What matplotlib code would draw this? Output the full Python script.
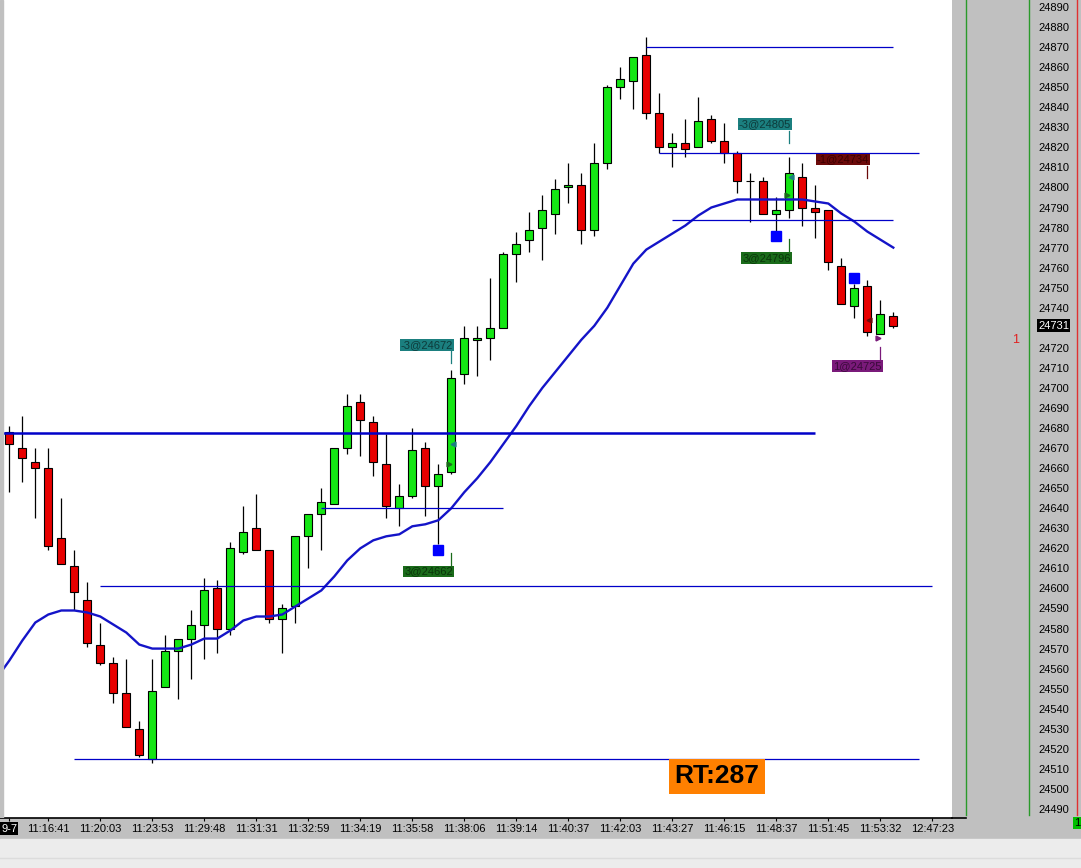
import numpy as np
import matplotlib.pyplot as plt
from matplotlib.lines import Line2D
from matplotlib.patches import Rectangle

plt.rcParams['font.family'] = ['Liberation Sans', 'DejaVu Sans']

# K线数据 (开 高 低 收)
opens = [24678, 24670, 24663, 24660, 24625, 24611, 24594, 24572, 24563, 24548,
         24530, 24515, 24551, 24569, 24575, 24582, 24600, 24580, 24618, 24630,
         24619, 24585, 24591, 24626, 24637, 24642, 24670, 24693, 24683, 24662,
         24640, 24646, 24670, 24651, 24658, 24707, 24724, 24725, 24730, 24767,
         24774, 24780, 24787, 24800, 24801, 24779, 24812, 24850, 24853, 24866,
         24837, 24820, 24822, 24820, 24834, 24823, 24817, 24803, 24803, 24787,
         24789, 24805, 24790, 24789, 24761, 24741, 24751, 24727, 24736]
highs = [24681, 24686, 24670, 24670, 24645, 24619, 24603, 24583, 24566, 24565,
         24534, 24565, 24577, 24575, 24589, 24605, 24604, 24623, 24641, 24647,
         24619, 24592, 24626, 24637, 24650, 24670, 24697, 24697, 24686, 24677,
         24652, 24680, 24673, 24662, 24709, 24731, 24731, 24755, 24768, 24778,
         24788, 24796, 24804, 24812, 24807, 24822, 24851, 24860, 24865, 24875,
         24847, 24827, 24834, 24845, 24836, 24832, 24818, 24807, 24805, 24795,
         24815, 24812, 24801, 24789, 24765, 24752, 24754, 24744, 24738]
lows = [24648, 24653, 24635, 24619, 24612, 24589, 24571, 24562, 24543, 24531,
        24516, 24513, 24551, 24545, 24555, 24565, 24568, 24577, 24617, 24619,
        24583, 24568, 24583, 24610, 24619, 24642, 24667, 24666, 24656, 24635,
        24631, 24645, 24636, 24622, 24657, 24702, 24706, 24714, 24730, 24753,
        24768, 24764, 24777, 24792, 24772, 24776, 24809, 24844, 24839, 24834,
        24817, 24810, 24815, 24820, 24822, 24812, 24797, 24783, 24787, 24778,
        24785, 24781, 24775, 24759, 24742, 24735, 24726, 24727, 24730]
closes = [24672, 24665, 24660, 24621, 24612, 24598, 24573, 24563, 24548, 24531,
          24517, 24549, 24569, 24575, 24582, 24599, 24580, 24620, 24628, 24619,
          24585, 24590, 24626, 24637, 24643, 24670, 24691, 24684, 24663, 24641,
          24646, 24669, 24651, 24657, 24705, 24725, 24725, 24730, 24767, 24772,
          24779, 24789, 24799, 24801, 24779, 24812, 24850, 24854, 24865, 24837,
          24820, 24822, 24819, 24833, 24823, 24817, 24803, 24803, 24787, 24789,
          24807, 24790, 24788, 24763, 24742, 24750, 24728, 24737, 24731]

# 均线 (从第 -1 根K线开始)
ma_values = [24555, 24564, 24574, 24583, 24587, 24589, 24589, 24588, 24586, 24582,
             24578, 24572, 24570, 24570, 24570, 24572, 24575, 24575, 24579, 24584,
             24586, 24586, 24587, 24591, 24595, 24599, 24606, 24614, 24620, 24624,
             24626, 24627, 24631, 24632, 24634, 24640, 24648, 24655, 24663, 24672,
             24681, 24691, 24700, 24708, 24716, 24724, 24731, 24740, 24751, 24762,
             24769, 24773, 24777, 24781, 24786, 24790, 24792, 24794, 24794, 24794,
             24794, 24794, 24794, 24793, 24792, 24787, 24783, 24778, 24774, 24770]

# 时间刻度
tick_bars = [0, 3, 7, 11, 15, 19, 23, 27, 31, 35, 39, 43, 47, 51, 55, 59, 63, 67, 71]
tick_labels = ['9-7', '11:16:41', '11:20:03', '11:23:53', '11:29:48', '11:31:31',
               '11:32:59', '11:34:19', '11:35:58', '11:38:06', '11:39:14',
               '11:40:37', '11:42:03', '11:43:27', '11:46:15', '11:48:37',
               '11:51:45', '11:53:32', '12:47:23']

# 水平价位线
level_prices = [24870, 24817, 24784, 24677.5, 24640, 24601, 24515]
level_start = [49, 50, 51, -1, 24, 7, 5]
level_end = [68, 70, 68, 62, 38, 71, 70]
level_width = [0.9, 0.9, 0.9, 1.8, 0.9, 0.9, 0.9]

# 成交标签
fill_text = ['-3@24672', '3@24662', '-3@24805', '3@24796', '-1@24734', '1@24725']
fill_bar = [34, 34, 60, 60, 66, 67]
fill_price = [24672, 24662, 24805, 24796, 24734, 24725]
label_price = [24721.5, 24608.5, 24831.5, 24765, 24814, 24711]
label_color = ['#1b7f7f', '#1a6b1a', '#1b7f7f', '#1a6b1a', '#6b0a0a', '#7a1a7a']
label_text_color = ['#0d3b3b', '#0a350a', '#0d3b3b', '#0a350a', '#3c0000', '#3a0a3a']

# 止损方块
stop_bar = [33, 59, 65]
stop_price = [24619, 24776, 24755]

last_price = 24731
rt_text = 'RT:287'

W, H = 1081, 868
fig = plt.figure(figsize=(W / 100, H / 100), dpi=100, facecolor='#c0c0c0')
ax = fig.add_axes([0, 1 - 818 / H, 952 / W, 818 / H], facecolor='white')

x = np.arange(len(opens))
o = np.array(opens)
c = np.array(closes)
body_col = np.where(c > o, '#14e614', np.where(c < o, '#e80000', 'black'))

# 影线和实体
ax.vlines(x, lows, highs, color='black', lw=0.9, zorder=2)
ax.bar(x, np.abs(c - o), bottom=np.minimum(o, c), width=0.62, color=body_col,
       edgecolor='black', linewidth=0.8, zorder=3)

# 均线
ax.plot(np.arange(-1, len(ma_values) - 1), ma_values, color='#1414c8', lw=1.7, zorder=4)

# 价位线
ax.hlines(level_prices, level_start, level_end, colors='#0000c8', linewidths=level_width, zorder=4)

# 成交标签
for txt, b, fp, lp, col, tcol in zip(fill_text, fill_bar, fill_price, label_price,
                                      label_color, label_text_color):
    ax.text(b + 0.12, lp, txt, ha='right', va='center', fontsize=8, color=tcol, zorder=6,
            bbox=dict(boxstyle='square,pad=0.08', fc=col, ec='none'))
    if txt.startswith('-'):
        ax.plot([b, b], [lp - 3.2, lp - 9.2], color=col, lw=0.9, zorder=6)
        ax.plot(b + 0.15, fp, marker='<', ms=3.5, color=col, zorder=6)
    else:
        ax.plot([b, b], [lp + 3.2, lp + 9.2], color=col, lw=0.9, zorder=6)
        ax.plot(b - 0.15, fp, marker='>', ms=3.5, color=col, zorder=6)

ax.plot(stop_bar, stop_price, 's', ms=7, color='#0000ff', zorder=6, linestyle='none')

# RT 标签
ax.text(0.753, 0.051, rt_text, transform=ax.transAxes, ha='center', va='center',
        fontsize=19, fontweight='bold', color='black', zorder=7,
        bbox=dict(boxstyle='square,pad=0.2', fc='#ff8000', ec='none'))

ax.set_xlim(-9.3 / 13, (952 - 9.3) / 13)
ax.set_ylim(24485.5, 24893.5)

# 坐标轴
for s in ['top', 'left', 'right']:
    ax.spines[s].set_visible(False)
ax.spines['bottom'].set_color('black')
ax.spines['bottom'].set_linewidth(1.2)

ax.set_xticks(tick_bars)
ax.set_xticklabels(tick_labels)
ax.tick_params(axis='x', length=2.5, pad=1.5, labelsize=8, color='black')
lbl0 = ax.get_xticklabels()[0]
lbl0.set_color('white')
lbl0.set_bbox(dict(boxstyle='square,pad=0.1', fc='black', ec='none'))

yt = [v for v in range(24490, 24891, 10) if v != 24730]
ax.set_yticks(yt)
ax.yaxis.tick_right()
ax.tick_params(axis='y', length=0, pad=62, labelsize=8)
ax.text(1038 / 952, last_price, str(last_price), transform=ax.get_yaxis_transform(),
        ha='left', va='center', fontsize=8, color='white', clip_on=False,
        bbox=dict(boxstyle='square,pad=0.12', fc='black', ec='none'))

# 左侧灰条
ax.add_patch(Rectangle((0, 0), 2.5 / 952, 1, transform=ax.transAxes, color='#c0c0c0', zorder=8))

# 右侧面板的竖线
for xp, col in [(966, '#2a9a2a'), (1029, '#2a9a2a'), (1077, '#e03030')]:
    fig.add_artist(Line2D([xp / W, xp / W], [1 - 815 / H, 1], color=col, lw=1))
fig.add_artist(Line2D([952 / W, 966 / W], [1 - 818 / H, 1 - 818 / H], color='black', lw=1.2))

# 底部状态栏
fig.add_artist(Rectangle((0, 0), 1, 1 - 839 / H, transform=fig.transFigure, color='#ececec', zorder=0))
fig.add_artist(Line2D([0, 1], [1 - 858 / H, 1 - 858 / H], color='#dcdcdc', lw=1))
fig.text(1074 / W, 1 - 823 / H, '1', fontsize=8, color='black', va='center',
         bbox=dict(boxstyle='square,pad=0.1', fc='#00c000', ec='none'))
fig.text(1012 / W, 1 - 340 / H, '1', fontsize=9, color='#e02020', va='center')

fig.savefig('out.png', dpi=100, facecolor=fig.get_facecolor())
